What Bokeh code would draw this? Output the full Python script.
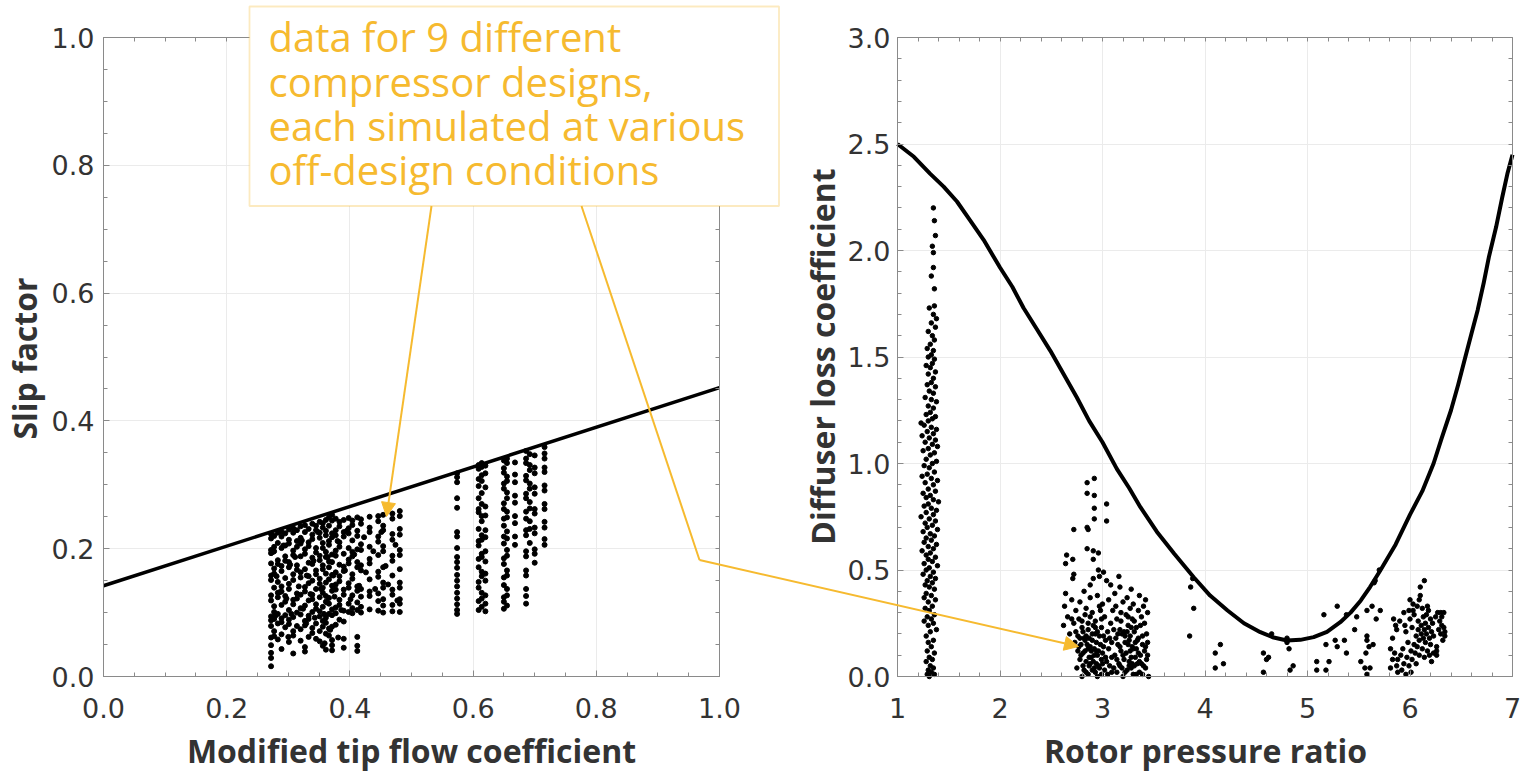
import math
from bokeh.plotting import figure
from bokeh.models import (Range1d, FixedTicker, LinearAxis, Grid, BoxAnnotation, Label,
                          Arrow, NormalHead)
from bokeh.embed import file_html
from bokeh.resources import INLINE

# ---------------- data: left panel (slip factor) ----------------
slip_col_x = [0.272, 0.277, 0.283, 0.289, 0.295, 0.301, 0.308, 0.314, 0.320, 0.327,
              0.333, 0.339, 0.345, 0.351, 0.356, 0.361, 0.366, 0.371, 0.377, 0.383,
              0.390, 0.398, 0.404, 0.412, 0.418, 0.432, 0.446, 0.454, 0.469, 0.481,
              0.574, 0.609, 0.614, 0.620, 0.650, 0.655, 0.668, 0.686, 0.692, 0.700, 0.716]
slip_col_y = [
    [0.223, 0.216, 0.198, 0.193, 0.177, 0.158, 0.151, 0.127, 0.119, 0.094, 0.088, 0.079, 0.061, 0.049, 0.037, 0.029, 0.016],
    [0.220, 0.203, 0.196, 0.169, 0.161, 0.139, 0.110, 0.101, 0.090, 0.071, 0.063],
    [0.225, 0.209, 0.182, 0.176, 0.148, 0.131, 0.124, 0.098, 0.083, 0.058],
    [0.227, 0.219, 0.201, 0.173, 0.165, 0.141, 0.133, 0.112, 0.091, 0.085, 0.066, 0.043],
    [0.224, 0.205, 0.188, 0.181, 0.154, 0.126, 0.117, 0.096, 0.077],
    [0.230, 0.214, 0.208, 0.179, 0.171, 0.145, 0.137, 0.104, 0.089, 0.082, 0.054],
    [0.232, 0.225, 0.197, 0.190, 0.160, 0.151, 0.120, 0.113, 0.093, 0.071, 0.064, 0.036],
    [0.229, 0.212, 0.203, 0.174, 0.167, 0.130, 0.122, 0.100, 0.079],
    [0.235, 0.217, 0.208, 0.188, 0.163, 0.155, 0.128, 0.107, 0.097, 0.074, 0.056],
    [0.237, 0.226, 0.199, 0.192, 0.168, 0.140, 0.133, 0.111, 0.087, 0.080, 0.046, 0.039],
    [0.231, 0.210, 0.204, 0.178, 0.157, 0.146, 0.119, 0.095, 0.090, 0.062],
    [0.239, 0.222, 0.215, 0.186, 0.176, 0.150, 0.128, 0.121, 0.101, 0.076, 0.068],
    [0.236, 0.229, 0.201, 0.194, 0.166, 0.160, 0.137, 0.113, 0.106, 0.083, 0.059],
    [0.242, 0.225, 0.217, 0.189, 0.182, 0.153, 0.145, 0.124, 0.102, 0.094, 0.071, 0.055],
    [0.240, 0.233, 0.209, 0.201, 0.174, 0.168, 0.139, 0.131, 0.109, 0.087, 0.078, 0.048],
    [0.245, 0.228, 0.221, 0.195, 0.187, 0.161, 0.147, 0.126, 0.117, 0.092, 0.084, 0.067, 0.042],
    [0.249, 0.236, 0.212, 0.206, 0.180, 0.171, 0.152, 0.123, 0.114, 0.098, 0.075, 0.064],
    [0.253, 0.244, 0.224, 0.218, 0.191, 0.179, 0.159, 0.142, 0.134, 0.105, 0.096, 0.078, 0.057, 0.049, 0.041],
    [0.247, 0.229, 0.221, 0.197, 0.189, 0.163, 0.144, 0.136, 0.108, 0.099, 0.081],
    [0.242, 0.235, 0.210, 0.203, 0.175, 0.157, 0.149, 0.120, 0.112, 0.089],
    [0.245, 0.226, 0.219, 0.192, 0.172, 0.165, 0.136, 0.128, 0.103, 0.086, 0.059, 0.045],
    [0.248, 0.232, 0.224, 0.201, 0.183, 0.177, 0.146, 0.139, 0.114, 0.101],
    [0.244, 0.237, 0.213, 0.195, 0.188, 0.160, 0.153, 0.127, 0.107, 0.099],
    [0.249, 0.228, 0.220, 0.199, 0.179, 0.171, 0.141, 0.134, 0.116, 0.104, 0.062, 0.048, 0.040],
    [0.246, 0.239, 0.207, 0.198, 0.174, 0.166, 0.137, 0.125, 0.109, 0.100],
    [0.250, 0.233, 0.226, 0.203, 0.184, 0.177, 0.152, 0.133, 0.126, 0.105],
    [0.251, 0.243, 0.219, 0.211, 0.190, 0.164, 0.156, 0.130, 0.118, 0.103],
    [0.253, 0.236, 0.229, 0.204, 0.196, 0.171, 0.147, 0.139, 0.121, 0.111, 0.100],
    [0.255, 0.247, 0.223, 0.214, 0.189, 0.181, 0.158, 0.136, 0.128, 0.112, 0.102],
    [0.259, 0.251, 0.231, 0.222, 0.198, 0.190, 0.168, 0.147, 0.139, 0.121, 0.114, 0.101],
    [0.318, 0.312, 0.304, 0.279, 0.264, 0.226, 0.219, 0.201, 0.187, 0.179, 0.170, 0.159, 0.150, 0.141, 0.131, 0.122, 0.113, 0.104, 0.098],
    [0.331, 0.325, 0.309, 0.298, 0.279, 0.262, 0.257, 0.231, 0.212, 0.205, 0.184, 0.171, 0.148, 0.139, 0.118, 0.104],
    [0.334, 0.328, 0.315, 0.306, 0.287, 0.270, 0.251, 0.243, 0.221, 0.214, 0.192, 0.187, 0.164, 0.157, 0.131, 0.122, 0.109],
    [0.330, 0.318, 0.296, 0.266, 0.252, 0.229, 0.218, 0.196, 0.180, 0.161, 0.150, 0.127, 0.114, 0.102],
    [0.338, 0.326, 0.319, 0.302, 0.294, 0.271, 0.262, 0.247, 0.236, 0.219, 0.208, 0.185, 0.176, 0.155, 0.143, 0.124, 0.117, 0.106],
    [0.341, 0.334, 0.313, 0.306, 0.288, 0.279, 0.258, 0.249, 0.227, 0.216, 0.198, 0.189, 0.166, 0.158, 0.137, 0.127, 0.111],
    [0.335, 0.316, 0.304, 0.283, 0.272, 0.251, 0.240, 0.219, 0.206],
    [0.353, 0.341, 0.334, 0.314, 0.307, 0.286, 0.279, 0.258, 0.247, 0.229, 0.221, 0.196, 0.188, 0.166, 0.158, 0.137, 0.126, 0.114],
    [0.348, 0.331, 0.323, 0.302, 0.294, 0.273, 0.263, 0.243, 0.231, 0.209],
    [0.346, 0.327, 0.318, 0.296, 0.286, 0.262, 0.255, 0.233, 0.224, 0.199, 0.192, 0.178],
    [0.359, 0.349, 0.341, 0.327, 0.320, 0.299, 0.291, 0.270, 0.262, 0.242, 0.233, 0.215, 0.206],
]
slip_extra = [
    (0.275, 0.195), (0.281, 0.157), (0.286, 0.132), (0.292, 0.205), (0.297, 0.122), (0.303, 0.175),
    (0.305, 0.098), (0.311, 0.187), (0.317, 0.141), (0.322, 0.213), (0.324, 0.106), (0.330, 0.158),
    (0.336, 0.129), (0.341, 0.181), (0.343, 0.092), (0.348, 0.226), (0.353, 0.137), (0.358, 0.098),
    (0.363, 0.116), (0.364, 0.187), (0.368, 0.073), (0.373, 0.158), (0.375, 0.125), (0.380, 0.212),
    (0.386, 0.104), (0.392, 0.166), (0.395, 0.228), (0.401, 0.121), (0.407, 0.191), (0.415, 0.142),
    (0.423, 0.218), (0.426, 0.163), (0.438, 0.196), (0.441, 0.137), (0.451, 0.226), (0.458, 0.173),
    (0.462, 0.144), (0.474, 0.206), (0.477, 0.119), (0.279, 0.095), (0.300, 0.062), (0.329, 0.083),
    (0.359, 0.052), (0.381, 0.061),
]
slip_fit_x = [0.0, 1.0]
slip_fit_y = [0.142, 0.452]

# ---------------- data: right panel (diffuser loss) ----------------
loss_band_a = [
    (1.35, 2.20), (1.36, 2.14), (1.37, 2.07), (1.34, 2.02), (1.35, 1.99), (1.35, 1.92), (1.33, 1.88),
    (1.36, 1.82), (1.36, 1.74), (1.31, 1.73), (1.35, 1.70), (1.38, 1.68), (1.33, 1.66), (1.37, 1.64),
    (1.30, 1.62), (1.34, 1.60), (1.36, 1.58), (1.32, 1.56), (1.29, 1.54), (1.35, 1.53), (1.33, 1.51),
    (1.30, 1.50), (1.36, 1.49), (1.34, 1.47), (1.28, 1.46), (1.32, 1.45), (1.37, 1.43), (1.30, 1.42),
    (1.35, 1.40), (1.33, 1.38), (1.29, 1.37), (1.37, 1.36), (1.31, 1.34), (1.35, 1.33), (1.27, 1.31),
    (1.33, 1.30), (1.38, 1.29), (1.30, 1.27), (1.35, 1.26), (1.32, 1.24), (1.28, 1.23), (1.37, 1.22),
    (1.34, 1.21), (1.23, 1.19), (1.30, 1.20), (1.26, 1.18), (1.33, 1.17), (1.38, 1.16), (1.29, 1.15),
    (1.35, 1.14), (1.24, 1.13), (1.31, 1.12), (1.37, 1.11), (1.27, 1.10), (1.34, 1.09), (1.39, 1.08),
    (1.30, 1.07), (1.25, 1.06), (1.36, 1.05), (1.32, 1.04), (1.28, 1.02), (1.38, 1.01), (1.34, 1.00),
    (1.26, 0.99), (1.31, 0.98), (1.36, 0.96), (1.29, 0.95), (1.24, 0.94), (1.33, 0.93), (1.39, 0.92),
    (1.27, 0.91), (1.35, 0.90), (1.30, 0.88), (1.37, 0.87), (1.25, 0.86), (1.32, 0.85), (1.28, 0.84),
    (1.35, 0.83), (1.40, 0.82), (1.30, 0.81), (1.26, 0.80), (1.33, 0.79), (1.38, 0.78), (1.28, 0.77),
    (1.35, 0.76), (1.23, 0.75), (1.31, 0.74), (1.37, 0.73), (1.27, 0.72), (1.34, 0.71), (1.29, 0.70),
    (1.39, 0.69), (1.25, 0.68), (1.32, 0.67), (1.36, 0.66), (1.28, 0.65), (1.33, 0.64), (1.26, 0.63),
    (1.38, 0.62), (1.30, 0.61), (1.35, 0.60), (1.24, 0.59), (1.32, 0.58), (1.28, 0.57), (1.37, 0.56),
    (1.30, 0.55), (1.34, 0.54), (1.26, 0.53), (1.39, 0.52), (1.31, 0.51), (1.28, 0.50), (1.35, 0.49),
    (1.25, 0.48), (1.32, 0.47), (1.37, 0.46), (1.29, 0.45), (1.34, 0.44), (1.27, 0.43), (1.31, 0.42),
    (1.36, 0.41), (1.28, 0.39), (1.33, 0.38), (1.26, 0.37), (1.37, 0.36), (1.30, 0.35), (1.34, 0.33),
    (1.27, 0.32), (1.31, 0.31), (1.36, 0.29), (1.29, 0.28), (1.33, 0.27), (1.26, 0.26), (1.35, 0.25),
    (1.30, 0.24), (1.38, 0.22), (1.32, 0.21), (1.28, 0.19), (1.35, 0.17), (1.30, 0.16), (1.33, 0.14),
    (1.29, 0.12), (1.36, 0.11), (1.31, 0.09), (1.34, 0.08), (1.28, 0.07), (1.32, 0.05), (1.35, 0.04),
    (1.30, 0.03), (1.33, 0.02), (1.36, 0.01), (1.29, 0.01), (1.31, 0.00),
]
loss_cluster_b = [
    (2.85, 0.91), (2.92, 0.93), (2.85, 0.86), (2.92, 0.85), (3.04, 0.81), (2.92, 0.79), (3.04, 0.73),
    (2.92, 0.74), (2.85, 0.70), (2.86, 0.69), (2.72, 0.69), (2.85, 0.60), (2.91, 0.59), (2.96, 0.58),
    (2.91, 0.55), (2.65, 0.57), (2.71, 0.55), (2.64, 0.53), (2.72, 0.48), (2.71, 0.46), (2.96, 0.50),
    (3.01, 0.49), (2.97, 0.47), (2.91, 0.46), (3.16, 0.47), (3.04, 0.45), (2.88, 0.43), (3.08, 0.43),
    (3.17, 0.42), (3.28, 0.41),
    (2.64, 0.39), (2.82, 0.40), (2.95, 0.38), (3.12, 0.39), (3.24, 0.37), (3.36, 0.38), (3.42, 0.36),
    (2.70, 0.36), (2.78, 0.35), (2.88, 0.37), (3.00, 0.34), (3.06, 0.36), (3.20, 0.35), (3.30, 0.34), (3.40, 0.33),
    (2.63, 0.33), (2.74, 0.31), (2.84, 0.32), (2.90, 0.30), (2.97, 0.33), (3.10, 0.31), (3.18, 0.30),
    (3.27, 0.32), (3.35, 0.31), (3.44, 0.30),
    (2.66, 0.28), (2.77, 0.27), (2.83, 0.29), (2.93, 0.26), (3.02, 0.28), (3.14, 0.27), (3.23, 0.29),
    (3.31, 0.26), (3.38, 0.28), (3.29, 0.27), (2.88, 0.28),
    (2.62, 0.24), (2.72, 0.25), (2.80, 0.23), (2.86, 0.22), (2.91, 0.24), (2.99, 0.23), (3.08, 0.25),
    (3.17, 0.22), (3.25, 0.24), (3.33, 0.23), (3.41, 0.25), (2.95, 0.21), (3.21, 0.21),
    (2.68, 0.20), (2.76, 0.19), (2.81, 0.21), (2.87, 0.18), (2.93, 0.20), (3.01, 0.19), (3.05, 0.21),
    (3.13, 0.18), (3.19, 0.20), (3.27, 0.19), (3.35, 0.18), (3.43, 0.20), (2.84, 0.19), (3.24, 0.21),
    (2.73, 0.16), (2.79, 0.15), (2.83, 0.17), (2.88, 0.14), (2.94, 0.16), (2.98, 0.15), (3.03, 0.17),
    (3.15, 0.15), (3.22, 0.16), (3.29, 0.14), (3.34, 0.17), (3.39, 0.15), (3.44, 0.16), (2.90, 0.17), (3.26, 0.17),
    (2.76, 0.12), (2.81, 0.11), (2.86, 0.13), (2.92, 0.10), (2.96, 0.12), (3.00, 0.11), (3.06, 0.13),
    (3.12, 0.10), (3.18, 0.12), (3.23, 0.11), (3.30, 0.13), (3.37, 0.10), (3.41, 0.12), (2.89, 0.12), (3.27, 0.12),
    (2.78, 0.08), (2.84, 0.07), (2.89, 0.09), (2.94, 0.06), (2.99, 0.08), (3.04, 0.07), (3.09, 0.09),
    (3.16, 0.06), (3.21, 0.08), (3.26, 0.07), (3.32, 0.09), (3.38, 0.06), (3.43, 0.08), (2.91, 0.07), (3.29, 0.06),
    (2.75, 0.04), (2.82, 0.03), (2.87, 0.05), (2.93, 0.02), (2.97, 0.04), (3.02, 0.03), (3.07, 0.05),
    (3.14, 0.02), (3.19, 0.04), (3.24, 0.03), (3.31, 0.05), (3.36, 0.02), (3.42, 0.04), (2.90, 0.03), (3.28, 0.04),
    (2.86, 0.01), (2.95, 0.00), (3.05, 0.01), (3.20, 0.00), (3.33, 0.01), (3.45, 0.00), (2.80, 0.00),
]
loss_cluster_b_dense = [
    (2.80, 0.26), (2.86, 0.25), (2.93, 0.23), (2.99, 0.27), (3.18, 0.26), (3.28, 0.23), (3.37, 0.24),
    (2.74, 0.21), (2.82, 0.18), (2.90, 0.20), (2.97, 0.19), (3.11, 0.22), (3.22, 0.19), (3.31, 0.21),
    (3.39, 0.19), (2.77, 0.14), (2.85, 0.15), (2.92, 0.13), (3.01, 0.14), (3.09, 0.16), (3.17, 0.14),
    (3.25, 0.15), (3.33, 0.13), (3.42, 0.14), (2.79, 0.10), (2.87, 0.09), (2.95, 0.10), (3.03, 0.09),
    (3.14, 0.08), (3.20, 0.10), (3.28, 0.09), (3.35, 0.11), (3.44, 0.10), (2.81, 0.05), (2.88, 0.06),
    (2.96, 0.05), (3.00, 0.06), (3.11, 0.04), (3.17, 0.05), (3.26, 0.05), (3.34, 0.06), (3.40, 0.05),
    (2.84, 0.02), (2.92, 0.04), (2.99, 0.01), (3.09, 0.02), (3.22, 0.02), (3.30, 0.01), (3.39, 0.01),
    (2.83, 0.12), (2.94, 0.12), (3.32, 0.16), (3.36, 0.07), (2.78, 0.18), (3.07, 0.18), (3.15, 0.20),
    (2.70, 0.27), (3.25, 0.28), (2.98, 0.31), (3.13, 0.33),
]
loss_sparse = [
    (3.86, 0.42), (3.88, 0.46), (3.89, 0.32), (3.85, 0.19), (4.15, 0.15), (4.10, 0.11), (4.18, 0.06),
    (4.10, 0.04), (4.57, 0.11), (4.62, 0.09), (4.60, 0.08), (4.65, 0.20), (4.57, 0.02), (4.80, 0.18),
    (4.80, 0.16), (4.82, 0.13), (4.86, 0.05), (4.83, 0.03), (5.09, 0.07), (5.09, 0.03), (5.18, 0.03),
    (5.21, 0.07), (5.16, 0.29), (5.18, 0.15), (5.29, 0.33), (5.29, 0.14), (5.27, 0.17), (5.36, 0.17),
    (5.38, 0.29), (5.38, 0.11), (5.46, 0.22), (5.48, 0.28), (5.52, 0.07), (5.56, 0.04), (5.58, 0.01),
    (5.61, 0.04), (5.57, 0.11), (5.60, 0.14), (5.64, 0.15), (5.58, 0.19), (5.58, 0.17), (5.58, 0.31),
    (5.63, 0.33), (5.67, 0.27), (5.71, 0.31), (5.65, 0.44), (5.66, 0.45), (5.70, 0.50),
]
loss_cluster_c = [
    (6.14, 0.45), (6.10, 0.42), (6.10, 0.38), (6.09, 0.36), (6.00, 0.36), (6.03, 0.34), (5.94, 0.30),
    (6.03, 0.31), (6.12, 0.32), (6.17, 0.33), (6.18, 0.31), (6.30, 0.30), (6.33, 0.30), (6.31, 0.28),
    (6.29, 0.26), (6.33, 0.23), (6.34, 0.21), (6.34, 0.19), (6.26, 0.14), (6.26, 0.10), (6.26, 0.12),
    (5.84, 0.27), (5.86, 0.24), (5.90, 0.26), (5.87, 0.22), (5.83, 0.18), (5.81, 0.13), (5.83, 0.08),
    (5.81, 0.04), (5.87, 0.05), (5.88, 0.08), (5.91, 0.10), (5.88, 0.02), (5.92, 0.03), (5.94, 0.06),
    (5.96, 0.01), (5.97, 0.09), (5.99, 0.05), (6.01, 0.12), (6.02, 0.08), (6.04, 0.15), (6.05, 0.11),
    (6.06, 0.19), (6.07, 0.14), (6.08, 0.22), (6.08, 0.26), (6.09, 0.17), (6.11, 0.24), (6.11, 0.20),
    (6.12, 0.13), (6.13, 0.28), (6.13, 0.18), (6.14, 0.22), (6.15, 0.16), (6.15, 0.25), (6.16, 0.20),
    (6.17, 0.12), (6.18, 0.23), (6.19, 0.18), (6.20, 0.27), (6.20, 0.15), (6.21, 0.21), (6.22, 0.25),
    (6.23, 0.11), (6.23, 0.19), (5.96, 0.21), (5.98, 0.16), (6.00, 0.27), (6.02, 0.23), (6.04, 0.29),
    (5.93, 0.13), (5.95, 0.24), (6.06, 0.06), (6.09, 0.10), (5.99, 0.31), (6.30, 0.20), (6.31, 0.24),
    (6.32, 0.17), (6.28, 0.22), (6.25, 0.28), (6.27, 0.30), (6.16, 0.29), (6.14, 0.09), (6.19, 0.10),
    (6.21, 0.07), (6.07, 0.33), (6.01, 0.02), (5.85, 0.11),
]
loss_fit_x = [1.00, 1.16, 1.32, 1.45, 1.58, 1.71, 1.84, 2.00, 2.12, 2.23, 2.36, 2.49, 2.62, 2.75,
              2.87, 3.00, 3.14, 3.26, 3.37, 3.53, 3.70, 3.89, 4.05, 4.22, 4.38, 4.54, 4.67, 4.80,
              4.93, 5.06, 5.19, 5.32, 5.42, 5.52, 5.61, 5.71, 5.86, 6.00, 6.12, 6.23, 6.31, 6.40,
              6.47, 6.54, 6.60, 6.66, 6.72, 6.77, 6.84, 6.90, 6.95, 7.00]
loss_fit_y = [2.50, 2.44, 2.36, 2.30, 2.23, 2.14, 2.05, 1.92, 1.83, 1.73, 1.63, 1.53, 1.42, 1.31,
              1.20, 1.10, 0.975, 0.885, 0.795, 0.68, 0.576, 0.466, 0.38, 0.31, 0.25, 0.208, 0.183, 0.169,
              0.172, 0.185, 0.21, 0.255, 0.30, 0.357, 0.42, 0.498, 0.62, 0.76, 0.87, 1.00, 1.12, 1.25,
              1.37, 1.50, 1.61, 1.72, 1.85, 1.97, 2.11, 2.25, 2.36, 2.45]

# ---------------- ticks & texts ----------------
x1_ticks = [0.0, 0.2, 0.4, 0.6, 0.8, 1.0]
x1_labels = ["0.0", "0.2", "0.4", "0.6", "0.8", "1.0"]
y1_ticks = [0.0, 0.2, 0.4, 0.6, 0.8, 1.0]
y1_labels = ["0.0", "0.2", "0.4", "0.6", "0.8", "1.0"]
x2_ticks = [1, 2, 3, 4, 5, 6, 7]
x2_labels = ["1", "2", "3", "4", "5", "6", "7"]
y2_ticks = [0.0, 0.5, 1.0, 1.5, 2.0, 2.5, 3.0]
y2_labels = ["0.0", "0.5", "1.0", "1.5", "2.0", "2.5", "3.0"]
x1_title, y1_title = "Modified tip flow coefficient", "Slip factor"
x2_title, y2_title = "Rotor pressure ratio", "Diffuser loss coefficient"
annotation_lines = ["data for 9 different", "compressor designs,",
                    "each simulated at various", "off-design conditions"]

# ---------------- styling / geometry (page pixels) ----------------
ORANGE = "#F6BA2F"
AXIS = "#8a8a8a"
GRID = "#ebebeb"
TXT = "#333333"
TICK_FONT = "DejaVu Sans"
TITLE_FONT = "Open Sans"

W, H = 1522, 771
CL, CT = 0, 0                       # canvas origin on the page
CR, CB = CL + W, CT + H
P1 = dict(l=103, r=719, t=37, b=676)   # left panel frame
P2 = dict(l=897, r=1512, t=37, b=676)  # right panel frame
BASE_SHIFT = 0.385                  # label anchor -> alphabetic baseline, in em


def lin_range(p_lo, p_hi, v_lo, v_hi, c_lo, c_hi):
    k = (v_hi - v_lo) / (p_hi - p_lo)
    return v_lo + (c_lo - p_lo) * k, v_lo + (c_hi - p_lo) * k


x1r = lin_range(P1["l"], P1["r"], 0, 1, CL, CR)
y1r = lin_range(P1["b"], P1["t"], 0, 1, CB, CT)
x2r = lin_range(P2["l"], P2["r"], 1, 7, CL, CR)
y2r = lin_range(P2["b"], P2["t"], 0, 3, CB, CT)


def d1(px, py):
    return (px - P1["l"]) / (P1["r"] - P1["l"]), (P1["b"] - py) / (P1["b"] - P1["t"])


def minors(start, stop, step):
    n = int(round((stop - start) / step))
    return [round(start + i * step, 6) for i in range(n + 1)]


p = figure(width=W, height=H, x_range=Range1d(*x1r), y_range=Range1d(*y1r),
           x_axis_type=None, y_axis_type=None, output_backend="svg",
           toolbar_location=None, min_border=0)
p.extra_x_ranges = {"x2": Range1d(*x2r)}
p.extra_y_ranges = {"y2": Range1d(*y2r)}
p.outline_line_color = None
p.background_fill_color = "white"
p.border_fill_color = "white"


def labeled_axis(rn, fixed, bounds, ticks, minor, labels, standoff):
    return LinearAxis(x_range_name=rn[0], y_range_name=rn[1], fixed_location=fixed, bounds=bounds,
                      ticker=FixedTicker(ticks=ticks, minor_ticks=minor),
                      major_label_overrides={t: l for t, l in zip(ticks, labels)},
                      axis_line_color=AXIS, major_tick_line_color=AXIS, minor_tick_line_color=AXIS,
                      major_tick_in=0, major_tick_out=6, minor_tick_in=0, minor_tick_out=4,
                      major_label_text_font=TICK_FONT, major_label_text_font_size="27px",
                      major_label_text_color=TXT, major_label_standoff=standoff)


def frame_axis(rn, fixed, bounds, minor):
    return LinearAxis(x_range_name=rn[0], y_range_name=rn[1], fixed_location=fixed, bounds=bounds,
                      ticker=FixedTicker(ticks=[], minor_ticks=minor),
                      axis_line_color=AXIS, minor_tick_line_color=AXIS,
                      major_tick_in=0, major_tick_out=0, minor_tick_in=4, minor_tick_out=0,
                      major_label_standoff=0)


R1 = ("default", "default")
R2 = ("x2", "y2")
# left panel box
p.add_layout(labeled_axis(R1, 0.0, (0, 1), y1_ticks, minors(0, 1, 0.05), y1_labels, -58), "right")
p.add_layout(labeled_axis(R1, 0.0, (0, 1), x1_ticks, minors(0, 1, 0.05), x1_labels, -47), "above")
p.add_layout(frame_axis(R1, 1.0, (0, 1), minors(0, 1, 0.05)), "above")
p.add_layout(frame_axis(R1, 1.0, (0, 1), minors(0, 1, 0.05)), "right")
# right panel box
p.add_layout(labeled_axis(R2, 1.0, (0, 3), y2_ticks, minors(0, 3, 0.1), y2_labels, -56), "right")
p.add_layout(labeled_axis(R2, 0.0, (1, 7), x2_ticks, minors(1, 7, 0.2), x2_labels, -47), "above")
p.add_layout(frame_axis(R2, 3.0, (1, 7), minors(1, 7, 0.2)), "above")
p.add_layout(frame_axis(R2, 7.0, (0, 3), minors(0, 3, 0.1)), "right")

# grids
for dim, tk, bd, cb, rn in [(0, x1_ticks, (0, 1), (0, 1), R1), (1, y1_ticks, (0, 1), (0, 1), R1),
                            (0, x2_ticks, (1, 7), (0, 3), R2), (1, y2_ticks, (0, 3), (1, 7), R2)]:
    p.add_layout(Grid(dimension=dim, ticker=FixedTicker(ticks=tk), bounds=bd, cross_bounds=cb,
                      x_range_name=rn[0], y_range_name=rn[1], grid_line_color=GRID))

# data marks
sx = [x for x, ys in zip(slip_col_x, slip_col_y) for _ in ys] + [q[0] for q in slip_extra]
sy = [y for ys in slip_col_y for y in ys] + [q[1] for q in slip_extra]
p.scatter(sx, sy, size=5, color="black")
p.line(slip_fit_x, slip_fit_y, line_width=3.5, color="black")

for pts in (loss_band_a, loss_cluster_b, loss_cluster_b_dense, loss_sparse, loss_cluster_c):
    p.scatter([q[0] for q in pts], [q[1] for q in pts], size=4.5, color="black",
              x_range_name="x2", y_range_name="y2")
p.line(loss_fit_x, loss_fit_y, line_width=4, color="black", line_join="round",
       x_range_name="x2", y_range_name="y2")


# axis titles (page position of the alphabetic baseline / centre)
def title(px, py, text, vertical=False, fs=32):
    shift = BASE_SHIFT * fs
    if vertical:
        x, y = d1(px - shift, py)
    else:
        x, y = d1(px, py - shift)
    p.add_layout(Label(x=x, y=y, text=text, angle=math.pi / 2 if vertical else 0.0,
                       text_font=TITLE_FONT, text_font_size=f"{fs}px", text_font_style="bold",
                       text_color=TXT, text_align="center", text_baseline="alphabetic"))


title(411, 762, x1_title)
title(1205, 762, x2_title)
title(36, 358, y1_title, vertical=True)
title(834, 356, y2_title, vertical=True)

# annotation box, text and arrows
bl, bb = d1(249, 205.5)
br, bt = d1(778.5, 6)
p.add_layout(BoxAnnotation(left=bl, right=br, bottom=bb, top=bt, fill_color="white",
                           fill_alpha=1.0, line_color=ORANGE, line_width=1.8, level="overlay"))
ANN_FS = 40
for i, txt in enumerate(annotation_lines):
    lx, ly = d1(268, 51.5 + 44.4 * i - BASE_SHIFT * ANN_FS)
    p.add_layout(Label(x=lx, y=ly, text=txt, text_font=TITLE_FONT, text_font_size=f"{ANN_FS}px",
                       text_color=ORANGE, text_baseline="alphabetic", text_align="left",
                       level="overlay"))


def arrow(a, b, head):
    s, e = d1(*a), d1(*b)
    p.add_layout(Arrow(x_start=s[0], y_start=s[1], x_end=e[0], y_end=e[1],
                       line_color=ORANGE, line_width=2,
                       end=NormalHead(size=14, fill_color=ORANGE, line_color=ORANGE) if head else None,
                       level="overlay"))


arrow((431, 205.5), (386, 516), True)
arrow((581, 205.5), (699, 559.5), False)
arrow((699, 559.5), (1078, 646), True)

open("out.html", "w").write(file_html(p, INLINE))
